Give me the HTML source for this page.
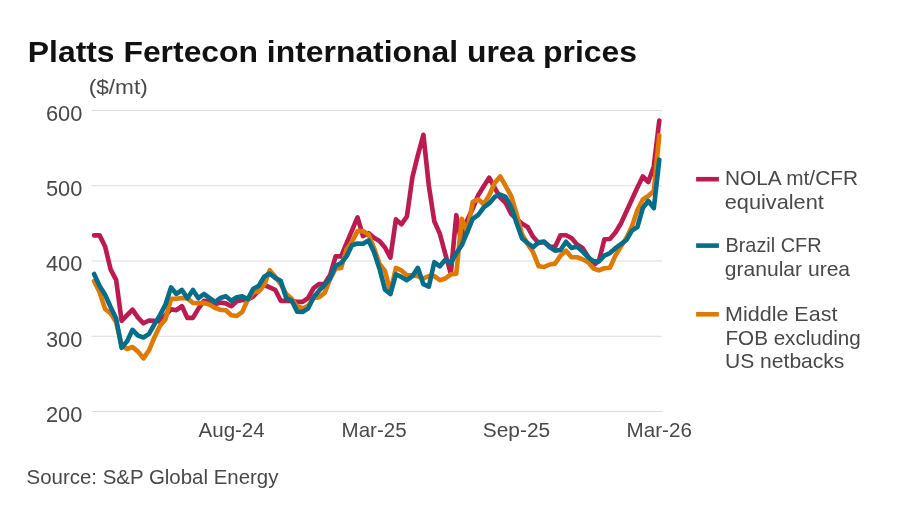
<!DOCTYPE html>
<html><head><meta charset="utf-8">
<style>
html,body{margin:0;padding:0;background:#fff;}
body{width:920px;height:514px;overflow:hidden;position:relative;font-family:"Liberation Sans",sans-serif;color:#1a1a1a;}
svg{position:absolute;left:0;top:0;}
text{font-family:"Liberation Sans",sans-serif;}
</style></head><body>
<svg width="920" height="514" viewBox="0 0 920 514">
<g stroke="#dadddd" stroke-width="1">
<line x1="91.5" x2="662" y1="110.5" y2="110.5"/>
<line x1="91.5" x2="662" y1="185.75" y2="185.75"/>
<line x1="91.5" x2="662" y1="261" y2="261"/>
<line x1="91.5" x2="662" y1="336.25" y2="336.25"/>
<line x1="91.5" x2="662" y1="411.5" y2="411.5"/>
</g>
<text id="title" x="27.8" y="61.7" font-size="30.2" font-weight="bold" fill="#111" textLength="609.2" lengthAdjust="spacingAndGlyphs">Platts Fertecon international urea prices</text>
<g font-size="20.7" fill="#484848">
<text id="unit" x="88.7" y="94.4" font-size="20" textLength="59.1" lengthAdjust="spacingAndGlyphs">($/mt)</text>
<text x="45.9" y="120.9" font-size="21.8" textLength="36.4" lengthAdjust="spacingAndGlyphs">600</text>
<text x="45.9" y="196.1" font-size="21.8" textLength="36.4" lengthAdjust="spacingAndGlyphs">500</text>
<text x="45.9" y="271.4" font-size="21.8" textLength="36.4" lengthAdjust="spacingAndGlyphs">400</text>
<text x="45.9" y="346.6" font-size="21.8" textLength="36.4" lengthAdjust="spacingAndGlyphs">300</text>
<text x="45.9" y="421.9" font-size="21.8" textLength="36.4" lengthAdjust="spacingAndGlyphs">200</text>
<text x="198.6" y="436.6" textLength="66" lengthAdjust="spacingAndGlyphs">Aug-24</text>
<text x="341.6" y="436.6" textLength="65" lengthAdjust="spacingAndGlyphs">Mar-25</text>
<text x="482.8" y="436.6" textLength="67.3" lengthAdjust="spacingAndGlyphs">Sep-25</text>
<text x="626.6" y="436.6" textLength="65.3" lengthAdjust="spacingAndGlyphs">Mar-26</text>
</g>
<g font-size="21" fill="#484848">
<text x="26.6" y="484.2" font-size="21" textLength="251.8" lengthAdjust="spacingAndGlyphs">Source: S&amp;P Global Energy</text>
<text x="725" y="185.4" textLength="132.9" lengthAdjust="spacingAndGlyphs">NOLA mt/CFR</text>
<text x="724.8" y="209.3" textLength="99" lengthAdjust="spacingAndGlyphs">equivalent</text>
<text x="725.5" y="251.7" textLength="96" lengthAdjust="spacingAndGlyphs">Brazil CFR</text>
<text x="724.8" y="275.5" textLength="125.3" lengthAdjust="spacingAndGlyphs">granular urea</text>
<text x="725" y="321.2" textLength="112.4" lengthAdjust="spacingAndGlyphs">Middle East</text>
<text x="725.5" y="344.8" textLength="135.3" lengthAdjust="spacingAndGlyphs">FOB excluding</text>
<text x="725" y="368.3" textLength="119.4" lengthAdjust="spacingAndGlyphs">US netbacks</text>
</g>
<g stroke-width="4.6" stroke-linecap="butt">
<line x1="696.1" x2="718.9" y1="179.2" y2="179.2" stroke="#ba1c50"/>
<line x1="696.1" x2="718.9" y1="245.6" y2="245.6" stroke="#036d8a"/>
<line x1="696.1" x2="718.9" y1="314.3" y2="314.3" stroke="#de7a02"/>
</g>
<g fill="none" stroke-width="4.65" stroke-linecap="round" stroke-linejoin="round">
<polyline stroke="#ba1c50" points="94.1,235.4 99.6,235.4 105.1,246.5 110.6,269.3 116.1,279.8 121.6,320.8 127.1,315.1 132.5,309.7 138.0,317.6 143.5,323.3 149.0,320.5 154.5,320.8 160.0,321.5 165.5,315.0 171.0,309.4 176.4,310.2 181.9,306.1 187.4,317.9 192.9,317.9 198.4,308.6 203.9,300.9 209.4,302.0 214.9,304.2 220.3,302.5 225.8,303.4 231.3,306.2 236.8,301.3 242.3,300.1 247.8,299.6 253.3,296.4 258.8,290.7 264.2,285.0 269.7,287.4 275.2,289.8 280.7,300.8 286.2,300.8 291.7,301.3 297.2,301.8 302.6,301.8 308.1,298.0 313.6,288.2 319.1,284.1 324.6,283.8 330.1,275.1 335.6,256.4 341.1,256.4 346.5,243.3 352.0,230.3 357.5,217.3 363.0,236.0 368.5,233.1 374.0,237.7 379.5,240.9 385.0,247.5 390.4,257.6 395.9,219.4 401.4,224.3 406.9,216.5 412.4,177.3 417.9,155.0 423.4,134.8 428.8,185.5 434.3,221.3 439.8,233.6 445.3,254.0 450.8,273.5 456.3,215.2 461.8,244.5 467.3,220.0 472.7,208.5 478.2,195.2 483.7,186.2 489.2,177.7 494.7,187.9 500.2,197.7 505.7,203.0 511.2,214.0 516.6,219.0 522.1,223.7 527.6,227.0 533.1,236.8 538.6,243.0 544.1,242.0 549.6,246.6 555.0,247.0 560.5,235.2 566.0,235.2 571.5,238.0 577.0,244.5 582.5,248.0 588.0,256.4 593.5,265.2 598.9,261.0 604.4,239.2 609.9,239.0 615.4,232.5 620.9,223.5 626.4,211.5 631.9,199.5 637.4,187.5 642.8,176.5 648.3,182.0 653.8,166.4 659.3,120.5"/>
<polyline stroke="#de7a02" points="94.1,281.1 99.6,292.3 105.1,309.0 110.6,313.5 116.1,322.0 121.6,345.0 127.1,349.0 132.5,347.0 138.0,351.6 143.5,358.4 149.0,350.3 154.5,337.2 160.0,325.8 165.5,319.2 171.0,298.8 176.4,298.8 181.9,298.0 187.4,298.5 192.9,302.9 198.4,303.2 203.9,302.9 209.4,304.5 214.9,307.8 220.3,309.7 225.8,310.3 231.3,315.3 236.8,316.0 242.3,311.9 247.8,299.6 253.3,292.3 258.8,291.5 264.2,284.9 269.7,270.2 275.2,276.8 280.7,284.1 286.2,293.9 291.7,298.8 297.2,306.5 302.6,308.3 308.1,306.0 313.6,298.0 319.1,297.2 324.6,293.1 330.1,279.0 335.6,268.6 341.1,268.0 346.5,249.8 352.0,241.7 357.5,231.1 363.0,231.1 368.5,234.4 374.0,248.0 379.5,264.0 385.0,271.0 390.4,292.0 395.9,267.9 401.4,270.4 406.9,275.3 412.4,275.3 417.9,276.1 423.4,278.5 428.8,276.1 434.3,276.1 439.8,280.2 445.3,278.5 450.8,274.4 456.3,273.6 461.8,218.9 467.3,232.0 472.7,201.8 478.2,199.3 483.7,204.2 489.2,195.2 494.7,183.0 500.2,176.4 505.7,186.2 511.2,196.0 516.6,214.0 522.1,234.5 527.6,244.0 533.1,252.3 538.6,266.2 544.1,267.0 549.6,264.5 555.0,263.7 560.5,255.6 566.0,250.7 571.5,257.2 577.0,257.2 582.5,259.2 588.0,262.1 593.5,268.6 598.9,270.3 604.4,268.3 609.9,267.8 615.4,255.6 620.9,246.6 626.4,238.0 631.9,226.5 637.4,210.0 642.8,199.5 648.3,196.0 653.8,191.0 659.3,135.2"/>
<polyline stroke="#036d8a" points="94.1,274.0 99.6,286.0 105.1,294.7 110.6,307.0 116.1,318.4 121.6,347.8 127.1,341.3 132.5,329.8 138.0,335.6 143.5,337.5 149.0,333.9 154.5,324.1 160.0,315.1 165.5,304.5 171.0,287.4 176.4,293.9 181.9,290.0 187.4,298.2 192.9,290.0 198.4,298.2 203.9,294.0 209.4,298.0 214.9,302.0 220.3,298.0 225.8,296.2 231.3,300.8 236.8,297.2 242.3,296.4 247.8,299.2 253.3,288.7 258.8,285.8 264.2,276.8 269.7,273.5 275.2,277.9 280.7,280.8 286.2,298.0 291.7,300.5 297.2,311.6 302.6,311.9 308.1,308.6 313.6,297.2 319.1,290.7 324.6,284.9 330.1,278.4 335.6,265.8 341.1,263.0 346.5,256.4 352.0,245.3 357.5,243.5 363.0,243.8 368.5,240.4 374.0,252.0 379.5,268.7 385.0,289.7 390.4,294.0 395.9,274.4 401.4,276.9 406.9,280.2 412.4,276.1 417.9,267.9 423.4,284.2 428.8,286.7 434.3,262.2 439.8,266.3 445.3,259.7 450.8,263.0 456.3,253.2 461.8,245.0 467.3,232.0 472.7,218.9 478.2,214.8 483.7,207.5 489.2,203.4 494.7,196.9 500.2,194.7 505.7,197.0 511.2,207.0 516.6,223.0 522.1,238.5 527.6,243.0 533.1,247.2 538.6,242.2 544.1,241.6 549.6,247.0 555.0,250.6 560.5,250.0 566.0,241.8 571.5,248.0 577.0,246.6 582.5,251.5 588.0,257.2 593.5,261.3 598.9,261.3 604.4,255.6 609.9,253.1 615.4,248.2 620.9,244.1 626.4,240.0 631.9,230.6 637.4,227.0 642.8,208.0 648.3,201.0 653.8,208.2 659.3,159.7"/>
</g>
</svg>
</body></html>
